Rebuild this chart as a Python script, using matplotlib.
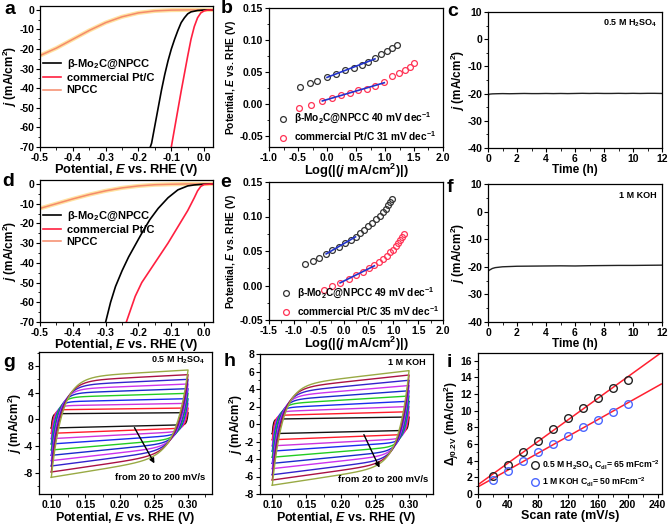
import numpy as np
import matplotlib
matplotlib.use('Agg')
import matplotlib.pyplot as plt
from matplotlib.ticker import MultipleLocator, FormatStrFormatter

plt.rcParams.update({
    'font.family': ['Liberation Sans', 'DejaVu Sans'],
    'font.weight': 'bold',
    'axes.labelweight': 'bold',
    'font.size': 8,
    'axes.unicode_minus': False,
    'mathtext.fontset': 'custom',
    'mathtext.rm': 'Liberation Sans:bold',
    'mathtext.it': 'Liberation Sans:italic:bold',
    'mathtext.bf': 'Liberation Sans:bold',
    'axes.linewidth': 0.9,
    'xtick.direction': 'out',
    'ytick.direction': 'out',
    'xtick.major.size': 3,
    'ytick.major.size': 3,
    'xtick.minor.size': 1.8,
    'ytick.minor.size': 1.8,
    'xtick.major.pad': 1.2,
    'ytick.major.pad': 1.2,
})

# ---------------- data ----------------
lsv_labels = ['β-Mo$_2$C@NPCC', 'commercial Pt/C', 'NPCC']

# panel a (0.5 M H2SO4)
a_mo2c_E = [0.027, 0.0, -0.02, -0.04, -0.05, -0.06, -0.07, -0.08, -0.09, -0.10, -0.11, -0.12, -0.13, -0.14, -0.15, -0.16, -0.164]
a_mo2c_j = [0, -0.05, -0.3, -1, -2, -4, -6.5, -10.5, -15, -20, -26, -33, -41, -50, -59, -68, -70]
a_pt_E = [0.027, 0.01, 0.0, -0.01, -0.02, -0.03, -0.04, -0.05, -0.06, -0.07, -0.08, -0.09, -0.10]
a_pt_j = [0, -0.1, -0.5, -1.5, -4, -8.5, -15, -23.5, -32.5, -41.5, -51, -60.5, -70]
a_npcc_E = [-0.5, -0.45, -0.4, -0.35, -0.3, -0.25, -0.2, -0.15, -0.1, -0.05, 0.027]
a_npcc_j = [-23.3, -19.5, -15, -10.5, -6.5, -3.5, -1.5, -0.5, -0.1, 0, 0]

# panel d (1 M KOH)
d_mo2c_E = [0.027, 0.0, -0.03, -0.05, -0.08, -0.11, -0.14, -0.165, -0.19, -0.21, -0.23, -0.25, -0.27, -0.285, -0.30]
d_mo2c_j = [0, -0.1, -0.5, -1, -3, -7, -12.4, -18, -25, -31, -37, -44, -52, -60, -70]
d_pt_E = [0.027, 0.0, -0.01, -0.02, -0.03, -0.05, -0.07, -0.09, -0.11, -0.13, -0.15, -0.17, -0.19, -0.21, -0.237]
d_pt_j = [0, -0.3, -1.2, -3.5, -7, -13.5, -19, -24.5, -30, -35, -40, -45, -50, -57, -70]
d_npcc_E = [-0.5, -0.45, -0.4, -0.35, -0.3, -0.25, -0.2, -0.15, -0.1, -0.05, 0.027]
d_npcc_j = [-12.4, -10, -7.6, -5.4, -3.5, -2, -1, -0.4, -0.15, 0, 0]

# panel b (Tafel, acid)
b_mo2c_x = [-0.46, -0.30, -0.17, 0.0, 0.156, 0.306, 0.457, 0.595, 0.71, 0.827, 0.936, 1.03, 1.115, 1.2]
b_mo2c_y = [0.026, 0.032, 0.036, 0.0416, 0.047, 0.052, 0.056, 0.061, 0.066, 0.0716, 0.078, 0.082, 0.087, 0.0916]
b_pt_x = [-0.486, -0.27, -0.08, 0.09, 0.237, 0.393, 0.538, 0.688, 0.832, 0.988, 1.127, 1.237, 1.341, 1.428, 1.503]
b_pt_y = [-0.0063, -0.0016, 0.0042, 0.0084, 0.0132, 0.0174, 0.0211, 0.0237, 0.0279, 0.0337, 0.0432, 0.0484, 0.0526, 0.0579, 0.0632]
b_labels = ['β-Mo$_2$C@NPCC 40 mV dec$^{-1}$', 'commercial Pt/C 31 mV dec$^{-1}$']
b_fit_mo2c = (0.0, 0.83)
b_fit_pt = (-0.08, 1.0)

# panel e (Tafel, alkaline)
e_mo2c_x = [-0.77, -0.61, -0.49, -0.35, -0.23, -0.10, 0.02, 0.14, 0.24, 0.33, 0.42, 0.50, 0.58, 0.66, 0.73, 0.79, 0.85, 0.90, 0.94, 0.97]
e_mo2c_y = [0.031, 0.036, 0.040, 0.046, 0.051, 0.056, 0.061, 0.066, 0.071, 0.076, 0.081, 0.086, 0.091, 0.096, 0.101, 0.106, 0.111, 0.116, 0.121, 0.126]
e_pt_x = [-0.40, -0.23, -0.07, 0.10, 0.25, 0.40, 0.52, 0.62, 0.72, 0.80, 0.87, 0.94, 1.00, 1.05, 1.10, 1.14, 1.18, 1.21]
e_pt_y = [-0.006, -0.001, 0.004, 0.010, 0.015, 0.020, 0.025, 0.029, 0.034, 0.038, 0.043, 0.048, 0.052, 0.057, 0.062, 0.066, 0.071, 0.075]
e_labels = ['β-Mo$_2$C@NPCC 49 mV dec$^{-1}$', 'commercial Pt/C 35 mV dec$^{-1}$']
e_fit_mo2c = (-0.35, 0.30)
e_fit_pt = (-0.07, 0.62)

# panel c / f (stability)
c_t = [0, 0.03, 0.06, 0.1, 0.3, 0.6, 1, 1.5, 2, 2.5, 3, 3.5, 4, 4.5, 5, 5.5, 6, 6.5, 7, 7.5, 8, 8.5, 9, 9.5, 10, 10.5, 11, 11.5, 12]
c_j = [-24.5, -20.6, -20.3, -20.2, -20.1, -20.05, -20.0, -20.05, -20.0, -19.95, -20.0, -20.0, -19.95, -20.0, -19.95, -20.0, -19.95, -19.9, -19.95, -19.9, -19.95, -19.95, -19.9, -19.95, -19.9, -19.95, -19.9, -19.9, -19.95]
f_t = [0, 0.1, 0.3, 0.5, 1, 1.5, 2, 3, 4, 5, 6, 7, 8, 9, 10, 11, 12]
f_j = [-21.6, -21.2, -20.6, -20.3, -20.0, -19.9, -19.8, -19.75, -19.7, -19.65, -19.7, -19.6, -19.55, -19.5, -19.5, -19.45, -19.4]

# panels g / h (CV at 20..200 mV/s)
cv_scan = [20, 40, 60, 80, 100, 120, 140, 160, 180, 200]
cv_colors = ['#111111', '#ff1a2a', '#cc33dd', '#1a2aee', '#22cc22', '#1a2acc', '#cc33ee', '#3322cc', '#aa1144', '#99aa44']
g_top = [1.0, 1.7, 2.4, 3.1, 3.9, 4.6, 5.3, 6.0, 6.7, 7.4]
g_bottom = [-1.3, -2.1, -2.9, -3.7, -4.6, -5.4, -6.2, -7.0, -7.9, -8.7]
h_top = [0.8, 1.4, 2.0, 2.6, 3.2, 3.8, 4.4, 5.0, 5.6, 6.1]
h_bottom = [-1.1, -1.8, -2.5, -3.1, -3.8, -4.5, -5.1, -5.8, -6.4, -7.0]

# panel i
i_scan = [20, 40, 60, 80, 100, 120, 140, 160, 180, 200]
i_acid = [2.2, 3.5, 5.0, 6.4, 7.8, 9.1, 10.35, 11.5, 12.65, 13.7]
i_alk = [1.7, 2.8, 3.9, 5.0, 6.0, 7.0, 8.0, 8.9, 9.8, 10.8]
i_labels = ['0.5 M H$_2$SO$_4$ C$_{\\mathrm{dl}}$= 65 mFcm$^{-2}$', '1 M KOH C$_{\\mathrm{dl}}$= 50 mFcm$^{-2}$']

# ---------------- figure ----------------
W, H = 669, 526
fig = plt.figure(figsize=(W / 100, H / 100), dpi=100)

TICK_FS = 7.5
XL_FS = 9.3


def add_ax(l, r, t, b):
    return fig.add_axes([l / W, 1 - b / H, (r - l) / W, (b - t) / H])


def style(ax):
    ax.tick_params(which='both', top=False, right=False, labelsize=TICK_FS)
    for lab in ax.get_xticklabels() + ax.get_yticklabels():
        lab.set_fontweight('bold')


axa = add_ax(40, 213, 6, 147)
axb = add_ax(269, 443, 8, 147)
axc = add_ax(488, 662, 12, 148)
axd = add_ax(40, 213, 180, 322)
axe = add_ax(269, 443, 182, 320)
axf = add_ax(488, 662, 184, 322)
axg = add_ax(39, 212, 352, 494)
axh = add_ax(260, 433, 354, 494)
axi = add_ax(478, 662, 353, 494)

LSV_XL = 'Potential, $E$ vs. RHE (V)'
JL = '$j$ (mA/cm$^2$)'


def lsv(ax, mE, mj, pE, pj, nE, nj, yanchor):
    ax.plot(nE, nj, color='#ffe2a0', lw=3.0, solid_capstyle='round')
    h3, = ax.plot(nE, nj, color='#f58a6a', lw=1.1)
    h1, = ax.plot(mE, mj, color='black', lw=1.2)
    h2, = ax.plot(pE, pj, color='#ff2040', lw=1.2)
    ax.set_xlim(-0.5, 0.027)
    ax.set_ylim(-70, 2)
    ax.xaxis.set_major_locator(MultipleLocator(0.1))
    ax.xaxis.set_minor_locator(MultipleLocator(0.05))
    ax.yaxis.set_major_locator(MultipleLocator(10))
    ax.yaxis.set_minor_locator(MultipleLocator(5))
    ax.set_xlabel(LSV_XL, fontsize=XL_FS, labelpad=-0.5)
    ax.set_ylabel(JL, fontsize=8.5, labelpad=0)
    ax.legend([h1, h2, h3], lsv_labels, loc='upper left', bbox_to_anchor=(-0.02, yanchor),
              frameon=False, fontsize=8, handlelength=1.6, handletextpad=0.5,
              labelspacing=0.2, borderaxespad=0.2)
    style(ax)


lsv(axa, a_mo2c_E, a_mo2c_j, a_pt_E, a_pt_j, a_npcc_E, a_npcc_j, 0.68)
lsv(axd, d_mo2c_E, d_mo2c_j, d_pt_E, d_pt_j, d_npcc_E, d_npcc_j, 0.84)


def tafel(ax, mx, my, px, py, labels, fit_m, fit_p, xlim, ylim, xmaj, anchor):
    h1, = ax.plot(mx, my, 'o', mfc='none', mec='#333333', ms=4.2, mew=0.9)
    h2, = ax.plot(px, py, 'o', mfc='none', mec='#ff3355', ms=4.2, mew=0.9)
    for xs, ys, rng in ((mx, my, fit_m), (px, py, fit_p)):
        xs = np.asarray(xs); ys = np.asarray(ys)
        sel = (xs >= rng[0] - 1e-9) & (xs <= rng[1] + 1e-9)
        k, c0 = np.polyfit(xs[sel], ys[sel], 1)
        xx = np.array([xs[sel].min(), xs[sel].max()])
        ax.plot(xx, k * xx + c0, color='#2233cc', lw=1.2)
    ax.set_xlim(*xlim)
    ax.set_ylim(*ylim)
    ax.xaxis.set_major_locator(MultipleLocator(xmaj))
    ax.xaxis.set_minor_locator(MultipleLocator(xmaj / 2))
    ax.yaxis.set_major_locator(MultipleLocator(0.05))
    ax.yaxis.set_minor_locator(MultipleLocator(0.025))
    ax.yaxis.set_major_formatter(FormatStrFormatter('%.2f'))
    ax.xaxis.set_major_formatter(FormatStrFormatter('%.1f'))
    ax.set_xlabel('Log(|($j$ mA/cm$^2$)|)', fontsize=XL_FS, labelpad=-0.5)
    ax.set_ylabel('Potential, $E$ vs. RHE (V)', fontsize=7.4, labelpad=1)
    ax.legend([h1, h2], labels, loc='lower left', bbox_to_anchor=anchor, frameon=False,
              fontsize=7.3, handlelength=1.0, handletextpad=0.6, labelspacing=0.3,
              borderaxespad=0.1)
    style(ax)


tafel(axb, b_mo2c_x, b_mo2c_y, b_pt_x, b_pt_y, b_labels, b_fit_mo2c, b_fit_pt,
      (-1.0, 2.0), (-0.068, 0.15), 0.5, (0.02, -0.01))
tafel(axe, e_mo2c_x, e_mo2c_y, e_pt_x, e_pt_y, e_labels, e_fit_mo2c, e_fit_pt,
      (-1.5, 2.0), (-0.05, 0.15), 0.5, (0.04, -0.02))


def stab(ax, t, j, txt):
    ax.plot(t, j, color='#222222', lw=1.0)
    ax.set_xlim(0, 12)
    ax.set_ylim(-40, 10)
    ax.xaxis.set_major_locator(MultipleLocator(2))
    ax.xaxis.set_minor_locator(MultipleLocator(1))
    ax.yaxis.set_major_locator(MultipleLocator(10))
    ax.yaxis.set_minor_locator(MultipleLocator(5))
    ax.set_xlabel('Time (h)', fontsize=8.5, labelpad=0)
    ax.set_ylabel(JL, fontsize=8.5, labelpad=0)
    ax.text(0.97, 0.92, txt, transform=ax.transAxes, ha='right', va='center', fontsize=6.5)
    style(ax)


stab(axc, c_t, c_j, '0.5 M H$_2$SO$_4$')
stab(axf, f_t, f_j, '1 M KOH')


def cv(ax, tops, bottoms, a_frac, c_frac, tau_a200, tau_c200):
    E = np.linspace(0.1, 0.3, 400)
    for v, top, bot, col in zip(cv_scan, tops, bottoms, cv_colors):
        ta = tau_a200 * v / 200.0
        tc = tau_c200 * v / 200.0
        Pa = top * (1 - a_frac * (0.3 - E) / 0.2)
        ja = Pa - (Pa[0] - bot) * np.exp(-(E - 0.1) / ta)
        Pc = bot * (1 - c_frac * (E - 0.1) / 0.2)
        jc = Pc + (top - Pc[-1]) * np.exp(-(0.3 - E) / tc)
        ax.plot(np.concatenate([E, E[::-1]]), np.concatenate([ja, jc[::-1]]),
                color=col, lw=1.0)
    ax.xaxis.set_major_locator(MultipleLocator(0.05))
    ax.xaxis.set_minor_locator(MultipleLocator(0.025))
    ax.xaxis.set_major_formatter(FormatStrFormatter('%.2f'))
    ax.set_xlabel(LSV_XL, fontsize=9, labelpad=0)
    ax.set_ylabel(JL, fontsize=8.5, labelpad=0)
    style(ax)


cv(axg, g_top, g_bottom, 0.16, 0.38, 0.016, 0.0175)
axg.set_xlim(0.082, 0.335)
axg.set_ylim(-11.2, 10.1)
axg.yaxis.set_major_locator(MultipleLocator(4))
axg.yaxis.set_minor_locator(MultipleLocator(2))
axg.text(0.96, 0.94, '0.5 M H$_2$SO$_4$', transform=axg.transAxes, ha='right', va='center', fontsize=6.5)
axg.annotate('', xy=(0.2528, -6.98), xytext=(0.2196, -0.88),
             arrowprops=dict(arrowstyle='-|>', color='black', lw=1.0, mutation_scale=7))
axg.text(0.259, -8.7, 'from 20 to 200 mV/s', ha='center', va='center', fontsize=6.8)

cv(axh, h_top, h_bottom, 0.30, 0.34, 0.015, 0.015)
axh.set_xlim(0.082, 0.335)
axh.set_ylim(-8, 8)
axh.yaxis.set_major_locator(MultipleLocator(2))
axh.yaxis.set_minor_locator(MultipleLocator(1))
axh.text(0.96, 0.94, '1 M KOH', transform=axh.transAxes, ha='right', va='center', fontsize=6.5)
axh.annotate('', xy=(0.2585, -5.28), xytext=(0.2322, -0.93),
             arrowprops=dict(arrowstyle='-|>', color='black', lw=1.0, mutation_scale=7))
axh.text(0.2624, -6.3, 'from 20 to 200 mV/s', ha='center', va='center', fontsize=6.8)

# panel i
for ys in (i_acid, i_alk):
    k, c0 = np.polyfit(i_scan, ys, 1)
    xx = np.array([0, 245])
    axi.plot(xx, k * xx + c0, color='#ff2030', lw=1.1)
hi1, = axi.plot(i_scan, i_acid, 'o', mfc='none', mec='#222222', ms=5.5, mew=1.0)
hi2, = axi.plot(i_scan, i_alk, 'o', mfc='none', mec='#4a66ff', ms=5.5, mew=1.0)
axi.set_xlim(0, 246)
axi.set_ylim(0, 16.9)
axi.xaxis.set_major_locator(MultipleLocator(40))
axi.xaxis.set_minor_locator(MultipleLocator(20))
axi.yaxis.set_major_locator(MultipleLocator(2))
axi.yaxis.set_minor_locator(MultipleLocator(1))
axi.set_xlabel('Scan rate (mV/s)', fontsize=9, labelpad=0)
axi.set_ylabel('Δ$_{j\\mathrm{0.2V}}$ (mA/cm$^2$)', fontsize=8.5, labelpad=0)
axi.legend([hi1, hi2], i_labels, loc='lower left', bbox_to_anchor=(0.27, 0.0), frameon=False,
           fontsize=6.2, handlelength=0.6, handletextpad=0.5, labelspacing=0.45, borderaxespad=0.2)
style(axi)

# panel letters
for letter, x, y in [('a', 4, 1), ('b', 221, 0), ('c', 447, 3), ('d', 2, 173), ('e', 220, 174),
                     ('f', 447, 179), ('g', 3, 354), ('h', 224, 353), ('i', 447, 354)]:
    fig.text(x / W, 1 - y / H, letter, ha='left', va='top', fontsize=14, fontweight='bold')

fig.savefig('out.png', dpi=100)
